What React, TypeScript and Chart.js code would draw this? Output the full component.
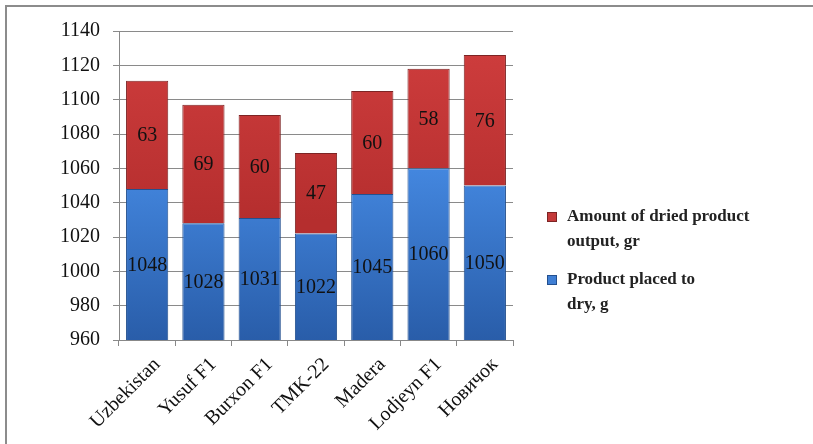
import React, { useEffect, useRef } from "react";
import { Chart, registerables } from "chart.js";

Chart.register(...registerables);

const categories = ["Uzbekistan", "Yusuf F1", "Burxon F1", "TMK-22", "Madera", "Lodjeyn F1", "Новичок"];
const placedValues = [1048, 1028, 1031, 1022, 1045, 1060, 1050];
const outputValues = [63, 69, 60, 47, 60, 58, 76];
const placedLegend = ["Product placed to", "dry, g"];
const outputLegend = ["Amount of dried product", "output, gr"];
const yMin = 960;
const yMax = 1140;
const yStep = 20;

const SERIF = "'Liberation Serif', 'Times New Roman', serif";

const valueLabels = {
  id: "valueLabels",
  afterDatasetsDraw(chart: any) {
    const ctx = chart.ctx;
    const area = chart.chartArea;
    ctx.save();
    ctx.font = `20px ${SERIF}`;
    ctx.fillStyle = "#111";
    ctx.textAlign = "center";
    ctx.textBaseline = "middle";
    chart.data.datasets.forEach((ds: any, i: number) => {
      const meta = chart.getDatasetMeta(i);
      meta.data.forEach((el: any, j: number) => {
        const top = Math.max(el.y, area.top);
        const bot = Math.min(el.base, area.bottom);
        const cy = (top + bot) / 2;
        ctx.fillText(String(ds.data[j]), el.x, cy + 1);
      });
    });
    ctx.restore();
  },
};

const sideLegend = {
  id: "sideLegend",
  afterDraw(chart: any) {
    const ctx = chart.ctx;
    ctx.save();
    const items = [
      { lines: outputLegend, ds: chart.data.datasets[1] },
      { lines: placedLegend, ds: chart.data.datasets[0] },
    ];
    const x0 = 547;
    let y = 217;
    ctx.font = `bold 17px ${SERIF}`;
    ctx.textBaseline = "middle";
    ctx.textAlign = "left";
    items.forEach((it) => {
      ctx.fillStyle = it.ds.legendColor;
      ctx.fillRect(x0, y - 5, 10, 10);
      ctx.strokeStyle = it.ds.borderColor;
      ctx.lineWidth = 1;
      ctx.strokeRect(x0 + 0.5, y - 4.5, 9, 9);
      ctx.fillStyle = "#222";
      it.lines.forEach((ln: string, k: number) => {
        ctx.fillText(ln, 567, y + k * 25);
      });
      y += 63;
    });
    ctx.restore();
  },
};

function blueFill(context: any) {
  const { chart } = context;
  const area = chart.chartArea;
  if (!area) return "#3a78cc";
  const g = chart.ctx.createLinearGradient(0, area.top + 140, 0, area.bottom);
  g.addColorStop(0, "#4386de");
  g.addColorStop(1, "#295da9");
  return g;
}

function redFill(context: any) {
  const { chart } = context;
  const area = chart.chartArea;
  if (!area) return "#c63c3c";
  const g = chart.ctx.createLinearGradient(0, area.top, 0, area.bottom - 120);
  g.addColorStop(0, "#d03e3e");
  g.addColorStop(1, "#b52e2e");
  return g;
}

export default function App() {
  const ref = useRef<HTMLCanvasElement>(null);
  useEffect(() => {
    if (!ref.current) return;
    const chart = new Chart(ref.current, {
      type: "bar",
      data: {
        labels: categories,
        datasets: [
          {
            label: placedLegend.join(" "),
            data: placedValues,
            backgroundColor: blueFill,
            borderColor: "#23508f",
            borderWidth: 1,
            barPercentage: 0.75,
            categoryPercentage: 1,
            legendColor: "#3f7fd4",
          } as any,
          {
            label: outputLegend.join(" "),
            data: outputValues,
            backgroundColor: redFill,
            borderColor: "#7d2424",
            borderWidth: 1,
            barPercentage: 0.75,
            categoryPercentage: 1,
            legendColor: "#c43a3a",
          } as any,
        ],
      },
      options: {
        animation: false,
        responsive: true,
        maintainAspectRatio: false,
        layout: { padding: { left: 0, right: 300, top: 31, bottom: 0 } },
        plugins: {
          legend: { display: false },
          tooltip: { enabled: false },
        },
        scales: {
          x: {
            stacked: true,
            grid: {
              display: true,
              drawOnChartArea: false,
              drawTicks: true,
              tickLength: 6,
              color: "#888",
              offset: true,
            },
            border: { color: "#888", width: 1 },
            ticks: {
              color: "#111",
              font: { family: SERIF, size: 20 },
              maxRotation: 45,
              minRotation: 45,
              padding: 7,
              labelOffset: 10,
              autoSkip: false,
            },
            afterFit: (scale: any) => {
              scale.height = 104;
            },
          },
          y: {
            stacked: true,
            min: yMin,
            max: yMax,
            grid: { color: "#8a8a8a", tickLength: 6, lineWidth: 1 },
            border: { color: "#888", width: 1 },
            ticks: {
              stepSize: yStep,
              color: "#111",
              font: { family: SERIF, size: 20 },
              padding: 13,
              callback: (v: any) => String(v),
            },
            afterFit: (scale: any) => {
              scale.width = 119;
            },
          },
        },
      },
      plugins: [valueLabels, sideLegend],
    });
    return () => chart.destroy();
  }, []);

  return (
    <div style={{ position: "fixed", left: 0, top: 0, width: 813, height: 444, background: "#fff" }}>
      <div
        style={{
          position: "absolute",
          left: 5,
          top: 5,
          right: 0,
          bottom: 0,
          borderTop: "2px solid #8c8c8c",
          borderLeft: "2px solid #8c8c8c",
        }}
      />
      <div style={{ position: "absolute", left: 0, top: 0, width: 813, height: 444 }}>
        <canvas ref={ref} />
      </div>
    </div>
  );
}
